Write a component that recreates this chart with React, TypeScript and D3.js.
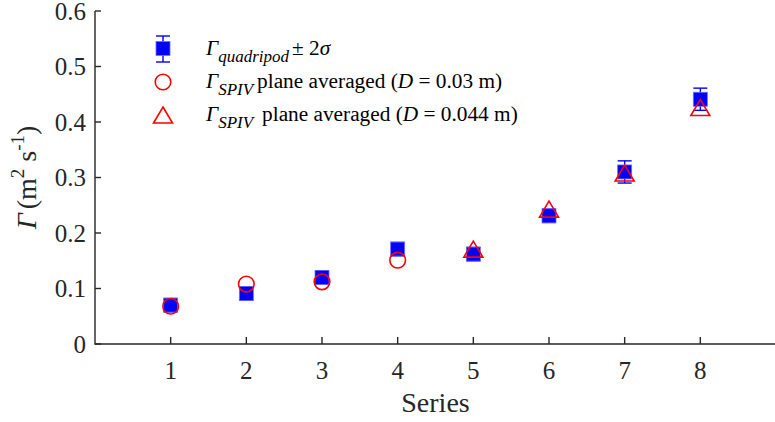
import React from 'react';
import * as d3 from 'd3';

// values
const series = [1, 2, 3, 4, 5, 6, 7, 8];
const quadripod = [0.07, 0.091, 0.12, 0.171, 0.162, 0.231, 0.31, 0.441];
const quadErr = [0.012, 0.012, 0.012, 0.012, 0.012, 0.012, 0.02, 0.02];
const spivSeries03 = [1, 2, 3, 4];
const spiv03 = [0.068, 0.108, 0.112, 0.151];
const spivSeries044 = [5, 6, 7, 8];
const spiv044 = [0.171, 0.243, 0.308, 0.426];
const yTicks = [0, 0.1, 0.2, 0.3, 0.4, 0.5, 0.6];

const width = 775;
const height = 422;
const left = 95;
const right = 776;
const top = 11;
const bottom = 344;

const BLUE = '#0000ff';
const RED = '#ff0000';
const AXIS = '#262626';
const FONT = '"Liberation Serif", "Times New Roman", serif';

function Square({ cx, cy }) {
    return <rect x={cx - 7} y={cy - 7} width={14} height={14} fill={BLUE} stroke="#6f6fff" strokeWidth={0.8} />;
}

function Triangle({ cx, cy }) {
    const w = 9.5, h = 8;
    return <path d={`M${cx},${cy - h}L${cx + w},${cy + h}L${cx - w},${cy + h}Z`}
        fill="none" stroke={RED} strokeWidth={1.6} strokeLinejoin="miter" />;
}

function ErrBar({ cx, y1, y2 }) {
    return <g stroke={BLUE} strokeWidth={1.4}>
        <line x1={cx} x2={cx} y1={y1} y2={y2} />
        <line x1={cx - 7} x2={cx + 7} y1={y1} y2={y1} />
        <line x1={cx - 7} x2={cx + 7} y1={y2} y2={y2} />
    </g>;
}

export default function App() {
    const x = d3.scaleLinear().domain([0, 9]).range([left, right]);
    const y = d3.scaleLinear().domain([0, 0.6]).range([bottom, top]);
    const fmt = d3.format('.1~f');

    return <svg width={width} height={height}
        style={{ position: 'absolute', left: 0, top: 0, background: '#fff' }}
        fontFamily={FONT}>
        <rect width={width} height={height} fill="#fff" />

        {/* axes */}
        <path d={`M${left},${top}V${bottom}H${right}`} fill="none" stroke={AXIS} strokeWidth={1.4} />
        {yTicks.map(t => <g key={'y' + t}>
            <line x1={left} x2={left + 6} y1={y(t)} y2={y(t)} stroke={AXIS} strokeWidth={1.4} />
            <text x={86} y={y(t) + 8.5} textAnchor="end" fontSize={25} fill={AXIS}>{fmt(t)}</text>
        </g>)}
        {series.map(s => <g key={'x' + s}>
            <line x1={x(s)} x2={x(s)} y1={bottom} y2={bottom - 7} stroke={AXIS} strokeWidth={1.4} />
            <text x={x(s)} y={379} textAnchor="middle" fontSize={25} fill={AXIS}>{s}</text>
        </g>)}
        <text x={(left + right) / 2} y={412} textAnchor="middle" fontSize={28} fill={AXIS}>Series</text>
        <text transform={`translate(36,${(top + bottom) / 2}) rotate(-90)`} textAnchor="middle" fontSize={28} fill={AXIS}>
            <tspan fontStyle="italic">Γ</tspan>
            <tspan dx={4}>(m</tspan>
            <tspan fontSize={19} dy={-12}>2</tspan>
            <tspan dy={12}> s</tspan>
            <tspan fontSize={19} dy={-12}>-1</tspan>
            <tspan dy={12}>)</tspan>
        </text>

        {/* quadripod with error bars */}
        {series.map((s, i) => <g key={'q' + s}>
            <ErrBar cx={x(s)} y1={y(quadripod[i] + quadErr[i])} y2={y(quadripod[i] - quadErr[i])} />
            <Square cx={x(s)} cy={y(quadripod[i])} />
        </g>)}
        {spivSeries03.map((s, i) =>
            <circle key={'c' + s} cx={x(s)} cy={y(spiv03[i])} r={7.8} fill="none" stroke={RED} strokeWidth={1.6} />)}
        {spivSeries044.map((s, i) =>
            <Triangle key={'t' + s} cx={x(s)} cy={y(spiv044[i])} />)}

        {/* legend */}
        <ErrBar cx={163} y1={36} y2={62} />
        <Square cx={163} cy={48.5} />
        <circle cx={163} cy={82} r={7.8} fill="none" stroke={RED} strokeWidth={1.6} />
        <Triangle cx={163} cy={115} />

        <g fontSize={21.3} fill="#000">
            <text x={206} y={55}>
                <tspan fontStyle="italic">Γ</tspan>
                <tspan fontSize={17} fontStyle="italic" dy={7}>quadripod</tspan>
                <tspan dy={-7} dx={3}>± 2</tspan>
                <tspan fontStyle="italic">σ</tspan>
            </text>
            <text x={206} y={88}>
                <tspan fontStyle="italic">Γ</tspan>
                <tspan fontSize={17} fontStyle="italic" dy={7}>SPIV</tspan>
                <tspan dy={-7} dx={4}>plane averaged (</tspan>
                <tspan fontStyle="italic">D</tspan>
                <tspan> = 0.03 m)</tspan>
            </text>
            <text x={206} y={121}>
                <tspan fontStyle="italic">Γ</tspan>
                <tspan fontSize={17} fontStyle="italic" dy={7}>SPIV</tspan>
                <tspan dy={-7} dx={9}>plane averaged (</tspan>
                <tspan fontStyle="italic">D</tspan>
                <tspan> = 0.044 m)</tspan>
            </text>
        </g>
    </svg>;
}
